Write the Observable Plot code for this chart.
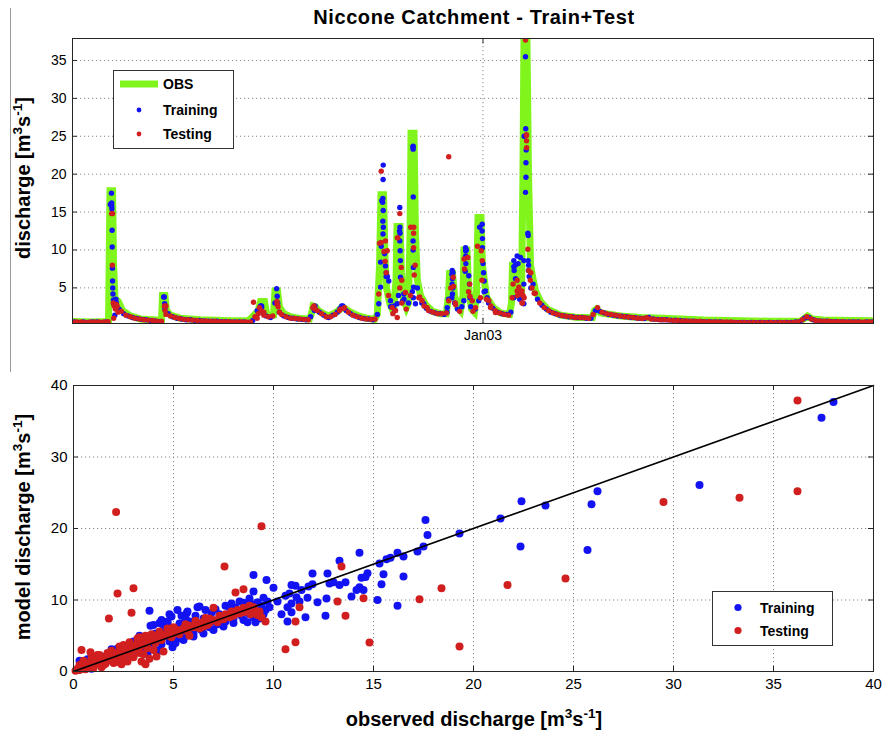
<!DOCTYPE html>
<html><head><meta charset="utf-8">
<script src="https://cdn.jsdelivr.net/npm/d3@7"></script>
<script src="https://cdn.jsdelivr.net/npm/@observablehq/plot@0.6"></script>
<style>
body{margin:0;background:#fff;}
#wrap{position:relative;width:883px;height:735px;background:#fff;overflow:hidden;}
#top{position:absolute;left:0;top:0;}
#bot{position:absolute;left:0;top:360px;}
#edge{position:absolute;left:10px;top:8px;width:1px;height:364px;background:#9a9a9a;z-index:2;}
</style></head><body>
<div id="wrap"><div id="top"></div><div id="bot"></div><div id="edge"></div></div>
<script>
// ---------- DATA ----------
const titleText = "Niccone Catchment - Train+Test";
const seriesNames = ["OBS", "Training", "Testing"];
const startDate = Date.UTC(2001, 11, 28);           // day 0 of the record
const jan03 = new Date(Date.UTC(2003, 0, 1));
const yTicksTop = [5, 10, 15, 20, 25, 30, 35];
const xTicksBot = [0, 5, 10, 15, 20, 25, 30, 35, 40];
const yTicksBot = [0, 10, 20, 30, 40];

// observed hydrograph vertices [day, discharge]
const obsSeries = [
  [0,0.55],[16,0.5],[30.5,0.55],[32.4,0.6],[33.7,17.8],[36,17.8],[36.9,8],[38.2,3.6],[41.3,3.2],[45,2.0],
  [52,1.3],[61,0.9],[74.6,0.75],[80,0.75],[80.9,4.0],[83.1,4.0],[84.5,2.0],[88,1.4],[97,1.0],[115,0.8],
  [142,0.65],[158,0.65],[162,1.2],[167,2.0],[169,3.2],[172.6,3.2],[174.4,1.6],[178,1.3],[180.7,1.4],[182,4.6],
  [184.3,4.6],[186,2.5],[190,1.6],[196,1.2],[205,0.95],[213,0.9],[214.8,1.6],[216.2,2.6],[218.4,2.5],[221,2.0],
  [225.6,1.6],[230,1.3],[234.6,1.6],[239,2.0],[241.8,2.4],[244.5,2.3],[250,1.8],[257,1.3],[264.3,1.0],[271.5,0.85],
  [274,1.5],[276,8],[277.3,17.3],[279.6,17.3],[280.9,9],[282.2,5],[285,3],[288.5,1.8],[290.8,6],[291.7,13.1],
  [294.4,13.1],[295.7,7],[297.5,3.5],[300.2,2.4],[302,3],[303.4,12],[304.3,25.4],[307,25.4],[308.3,12],[310,6],
  [312.8,4],[317.3,2.8],[323.6,1.9],[330.8,1.6],[336,1.6],[338,4],[338.9,6.9],[341.6,6.9],[343.4,4],[346,2.5],
  [348.8,2.0],[351,4],[351.9,10.0],[354.6,10.0],[356,5],[358.7,2.2],[361.3,1.8],[363.1,4],[364.5,14.3],[367.2,14.3],
  [368.5,8],[372.1,3.8],[378.4,2.4],[384.7,1.7],[392.8,1.5],[394.6,3],[395.5,8.0],[399.1,8.0],[400.9,4],[403.6,4],
  [404.9,20],[405.8,37.8],[408.5,37.8],[409.9,20],[411.7,8],[413.5,6.5],[416.2,4.6],[420.7,3.2],[427,2.2],[438.7,1.4],
  [454,1.1],[467.4,1.1],[469.2,2.0],[471,2.2],[474.6,1.7],[492.6,1.3],[510.6,1.1],[531.2,1.0],[546.5,0.9],[567.2,0.75],
  [600.4,0.65],[627.4,0.6],[654.4,0.6],[658,1.0],[660.7,1.3],[665.2,0.9],[675,0.75],[699.3,0.7],[720,0.65]
];

// model output sampled every 4 days: testing from day 0, training from day 2
const gridStep = 4, testGridStart = 0, trainGridStart = 2;
const testGrid = [
  0.5,0.5,0.5,0.45,0.5,0.5,0.5,0.5,0.55,14.8,
  2.6,1.9,1.4,1.2,1.0,0.9,0.8,0.75,0.7,0.6,
  0.6,2.6,1.3,1.1,0.95,0.85,0.8,0.75,0.7,0.65,
  0.65,0.6,0.6,0.55,0.55,0.55,0.5,0.5,0.5,0.5,
  0.5,1.2,2.4,1.8,1.2,1.3,2.8,1.5,1.2,1.0,
  0.95,0.9,0.85,0.8,2.4,2.0,1.6,1.2,1.2,1.5,
  2.0,2.3,1.8,1.4,1.2,1.0,0.9,0.85,0.9,10.9,
  9.8,4.0,1.6,11.6,6.0,2.2,13.0,8.0,3.8,2.6,
  2.0,1.8,1.6,1.6,1.7,5.0,3.0,1.9,8.8,4.5,
  1.9,10.5,6.0,3.5,2.6,2.0,1.7,1.5,1.4,5.5,
  4.0,3.0,25.2,7.0,4.3,3.0,2.4,2.0,1.7,1.5,
  1.35,1.25,1.2,1.1,1.1,1.05,1.0,1.5,2.4,1.8,
  1.6,1.5,1.4,1.3,1.2,1.15,1.1,1.0,0.95,1.05,
  0.9,0.85,0.8,0.8,0.75,0.7,0.7,0.65,0.65,0.6,
  0.6,0.6,0.55,0.55,0.5,0.5,0.5,0.5,0.5,0.45,
  0.45,0.45,0.4,0.45,0.4,0.45,0.4,0.45,0.4,0.45,
  0.45,0.4,0.45,0.5,0.8,1.2,0.9,0.7,0.65,0.6,
  0.6,0.55,0.55,0.55,0.5,0.5,0.5,0.5,0.5,0.5,
  0.5
];
const trainGrid = [
  0.5,0.45,0.5,0.45,0.5,0.5,0.4,0.5,16.0,3.3,
  2.2,1.6,1.3,1.1,0.95,0.85,0.8,0.7,0.65,0.55,
  3.8,1.6,1.2,1.0,0.9,0.8,0.8,0.7,0.7,0.65,
  0.6,0.6,0.6,0.55,0.55,0.5,0.5,0.5,0.5,0.45,
  0.7,2.0,2.6,1.3,1.1,3.0,1.8,1.3,1.1,1.0,
  0.9,0.85,0.8,1.2,2.6,1.8,1.4,1.1,1.4,1.8,
  2.6,2.0,1.6,1.3,1.1,0.95,0.9,0.8,1.5,16.5,
  6.5,2.5,2.0,12.5,3.5,3.0,23.6,5.0,3.0,2.3,
  1.9,1.7,1.6,1.5,3.5,7.0,2.2,2.5,10.0,2.5,
  2.2,13.0,4.5,3.0,2.3,1.8,1.6,1.5,1.8,8.0,
  3.5,25.0,8.0,5.5,3.5,2.7,2.2,1.8,1.6,1.4,
  1.3,1.2,1.15,1.1,1.1,1.0,1.0,2.0,1.9,1.7,
  1.5,1.4,1.3,1.25,1.2,1.1,1.05,1.0,0.95,1.1,
  0.9,0.85,0.8,0.8,0.75,0.75,0.7,0.65,0.6,0.6,
  0.55,0.55,0.5,0.5,0.5,0.5,0.45,0.45,0.45,0.4,
  0.45,0.4,0.45,0.4,0.45,0.4,0.45,0.4,0.45,0.4,
  0.45,0.45,0.5,0.55,1.0,1.1,0.8,0.65,0.6,0.6,
  0.55,0.55,0.5,0.5,0.5,0.5,0.5,0.45,0.5,0.5
];
// extra sub-daily model points during flood events [day, discharge]
const trainPeaks = [
  [35,17.5],[35.2,16.2],[35.3,15.8],[35.4,15.4],[35.6,12.6],[35.7,10.4],[35.9,7.6],[36,5.9],[36.2,5.0],[36.4,4.2],[36.8,3.4],[37.5,2.8],[39,3.5],[39.5,3.0],[40.5,2.3],[38,1.4],
  [82.5,3.8],[82.8,2.9],[83,2.2],
  [168,2.0],[169,2.6],[170,2.4],[171,1.8],
  [183.5,4.9],[184,3.9],[184.5,3.0],
  [216.5,2.3],[217.5,2.0],[240.5,2.3],[243,2.6],
  [279.3,21.2],[279.2,19.3],[279,16.8],[278.8,16.3],[279.3,15.2],[279,13.8],[279.4,13.0],[279.1,12.1],[277.5,10.5],[276.9,8.4],[281.3,7.9],[276.9,5.1],[275.3,2.9],[284.3,5.9],[285.8,3.3],[288.8,2.6],[280.5,9.5],[282,7.0],[283,6.5],
  [294.2,15.6],[294.3,13.0],[294.4,12.2],[294.2,11.2],[294.5,9.9],[294.7,8.6],[294.8,6.4],[291.9,2.9],[297.8,4.2],[293,4.0],[296.5,3.2],
  [306.2,23.7],[306.2,23.3],[306.3,17.0],[306.1,11.2],[306.2,10.0],[306.4,7.7],[306.6,5.1],[306.4,3.7],[308.3,2.9],[315.8,2.9],[305.5,4.5],
  [341.3,7.3],[341,6.8],[341.5,6.2],[341.2,5.5],[341.8,5.0],[341.5,4.2],[341,3.7],[336.8,2.4],[336.6,1.8],[343.5,3.0],
  [353.3,10.3],[353.4,9.9],[353.5,9.2],[353.6,8.2],[356.2,6.6],[356.8,5.5],[357.3,3.7],[351.8,3.3],[353,7.2],
  [368.3,13.4],[368.2,12.5],[368.5,11.5],[368.4,10.3],[369,8.2],[369.5,7.0],[370,5.9],[371.2,4.6],[372.7,3.7],[365.2,3.3],
  [399.7,9.2],[396.7,8.6],[396.7,7.8],[397,7.3],[398.2,6.2],[396.7,3.7],[403,3.5],
  [407.2,35.5],[407.4,26.0],[407.8,23.2],[407.6,21.5],[407.6,19.6],[407.2,17.6],[409.3,12.2],[409.6,11.9],[409.6,8.6],[409.8,7.3],[405.7,8.6],[402.7,9.0],[400.5,8.2],[405.7,5.5],[405.7,2.9],[410.5,6.5],[412,5.0]
];
const testPeaks = [
  [35.1,14.8],[35.8,8.0],[36.6,3.0],[37.5,2.6],[38.5,2.2],[39.5,2.8],[40,2.5],[41,1.8],[37,1.0],
  [82.6,2.6],[83.2,2.0],[84,1.5],
  [162.7,3.1],[167,1.6],[169.5,2.0],[172,1.4],[166,1.0],
  [183.8,3.2],[184.8,2.5],[186,1.8],
  [217,2.6],[218,2.2],[241,2.2],[244.5,2.4],
  [277.5,20.4],[275.3,4.2],[277.5,11.0],[281.3,11.2],[282.9,9.9],[287.4,2.4],[290.3,2.0],[281,8.5],[282,7.0],
  [294.2,14.8],[292.4,11.6],[295.5,7.7],[294.2,5.0],[290.3,2.0],[291.9,1.1],[299.3,4.4],[296,3.0],
  [306.8,13.0],[306.6,12.2],[306.6,10.3],[307.2,6.7],[303.8,4.0],[311.3,3.7],[314.3,3.3],[318.8,2.4],
  [338.2,22.3],
  [342.2,6.4],[342.5,5.2],[338.2,3.3],[344.3,2.8],
  [355.3,9.0],[352.4,7.5],[357,5.5],[357.2,3.9],[359.3,3.3],[362.2,2.4],
  [367.4,9.9],[368.3,8.6],[366.7,3.7],[374.2,3.3],[375.7,2.4],[380.2,1.75],
  [399.7,6.0],[395.2,3.7],[399.7,4.6],[402.7,4.2],[404.5,3.0],
  [407.2,37.7],[408.1,25.1],[408.1,24.4],[408.2,23.5],[409.3,10.1],[410.1,7.3],[401.2,5.1],[404,4.6],[405,4.0],[406,3.7],[411.5,6.0],[413,5.0],[415,4.3]
];

// scatter: [observed, model]
const trainScatter = [
  [38.0,37.7],[37.4,35.5],[31.3,26.1],[26.2,25.2],[25.9,23.4],[25.7,17.0],[22.4,23.8],[23.6,23.2],[21.35,21.4],[22.35,17.5],
  [19.3,19.3],[17.6,21.2],[17.7,19.1],[17.5,17.5],[17.2,16.8],[16.5,16.1],[16.2,16.6],[15.85,15.9],[15.65,15.7],[15.3,15.1],
  [15.5,13.6],[15.4,12.2],[16.5,13.3],[15.2,10.0],[16.2,9.2],[14.3,16.6],[13.3,15.5],[14.7,13.75],[14.6,13.2],[14.4,13.1],
  [14.5,11.4],[14.3,11.8],[14.15,11.4],[13.9,10.5],[13.6,12.5],[13.3,12.1],[13.0,12.5],[12.8,12.3],[12.7,13.7],[11.95,13.7],
  [11.95,12.2],[11.75,11.9],[11.4,11.4],[11.1,12.0],[10.6,10.6],[12.2,9.7],[12.65,10.2],[11.7,10.3],[11.3,9.8],[10.9,9.5],
  [10.9,8.3],[11.6,7.6],[10.7,7.0],[12.6,7.8],[10.0,11.7],[10.8,10.9],[9.65,12.8],[9.0,13.5],[9.0,11.2],[10.9,12.1],
  [10.7,9.0],[11.15,10.4],
  [0.2,0.2],[0.4,0.5],[0.6,0.4],[0.8,1.0],[1.0,0.8],[1.2,1.3],[0.5,1.0],[1.5,1.4],[1.8,1.6],[2.0,2.2],
  [2.3,1.9],[2.5,2.6],[2.8,2.4],[3.0,3.1],[3.2,2.8],[3.4,3.5],[1.0,2.0],[1.4,2.1],[0.7,1.7],[2.2,3.2],
  [2.6,3.5],[0.9,0.4],[1.9,3.1],[0.3,1.5],
  [3.6,3.0],[3.8,4.0],[4.0,3.5],[4.2,4.5],[4.4,3.8],[4.6,5.0],[4.8,4.2],[5.0,5.2],[5.2,4.6],[5.4,5.6],
  [5.6,5.0],[5.8,6.0],[6.0,5.4],[6.2,6.4],[6.4,5.8],[6.6,6.8],[6.8,6.2],[7.0,7.0],[7.2,6.6],[7.4,7.5],
  [7.6,7.0],[7.8,7.8],[8.0,7.4],[8.2,8.2],[8.4,7.8],[8.6,8.6],[8.8,8.0],[9.0,9.0],[9.2,8.4],[9.4,9.2],
  [9.6,8.6],[4.0,6.5],[4.3,6.8],[3.8,8.5],[4.7,7.0],[4.9,7.7],[5.3,6.7],[5.65,8.1],[5.8,7.0],[6.2,9.0],
  [6.1,7.8],[6.5,7.4],[6.9,8.2],[7.3,8.0],[7.8,9.0],[8.1,8.9],[8.5,9.6],[8.9,9.4],
  [3.7,2.5],[4.25,2.9],[4.95,3.4],[5.1,4.0],[5.5,4.4],[6.0,4.9],[6.5,5.3],[7.0,5.8],[7.5,6.3],[8.0,6.8],
  [8.5,7.2],[9.0,7.6],[9.5,8.0],[9.3,7.4],[8.7,6.9],[5.7,8.4],[4.5,5.8],[3.5,4.8],[4.1,5.3],[5.9,6.6],
  [7.9,9.5],[9.7,9.8],[3.85,6.4],[4.35,6.75],[4.7,6.7],[6.3,9.1],[4.5,6.9],[5.4,7.8],
  [3.0,4.2],[3.3,5.0],[4.4,7.2],[4.8,8.0],[5.2,8.6],[5.6,7.4],[6.6,8.6],[7.1,8.7],[7.6,9.2],[8.3,9.8],
  [8.8,10.2],[9.2,9.7],[9.5,10.3],[9.1,6.9],[9.8,9.0],[10.2,9.8],[10.4,8.0]
];
const testScatter = [
  [36.2,37.9],[33.3,24.3],[36.2,25.2],[29.5,23.7],[24.6,13.0],[21.7,12.1],[19.3,3.5],[18.4,11.65],[17.3,10.1],[14.8,4.05],
  [14.5,10.25],[13.6,7.8],[13.4,14.7],[13.2,9.8],[11.3,9.0],[11.1,7.0],[11.1,4.1],[10.6,3.1],[2.13,22.3],[9.4,20.3],
  [7.55,14.7],[3.0,11.65],[2.2,10.9],[1.77,7.4],[2.9,8.2],[8.5,11.5],[8.1,11.05],[3.6,1.0],[0.4,3.0],[0.85,2.7],
  [7.0,8.9],[6.6,7.5],[8.85,8.0],[9.4,7.6],[9.6,7.0],[4.15,2.1],[2.1,1.3],
  [0.1,0.1],[0.2,0.4],[0.3,0.2],[0.4,0.7],[0.5,0.4],[0.6,0.9],[0.7,0.6],[0.8,1.2],[0.9,0.8],[1.0,1.4],
  [1.1,1.0],[1.2,1.6],[1.3,1.2],[1.4,1.8],[1.5,1.4],[1.6,2.0],[1.7,1.5],[1.8,2.2],[1.9,1.8],[2.0,2.4],
  [2.1,2.0],[2.2,2.6],[2.3,2.2],[2.4,2.9],[2.5,2.4],[2.6,3.1],[2.7,2.6],[2.8,3.3],[2.9,2.9],[3.0,3.6],
  [3.1,3.1],[3.2,3.9],[3.3,3.4],[3.4,4.2],[3.5,3.7],[3.6,4.5],[3.7,4.0],[3.8,4.8],[3.9,4.4],[4.0,5.0],
  [4.2,4.7],[4.4,5.2],[4.6,5.0],[4.8,5.5],[5.0,5.3],[5.2,5.8],[5.5,6.0],[5.8,6.4],[6.0,6.2],[6.2,6.8],
  [6.5,7.0],[6.8,7.4],[7.0,7.2],[7.3,7.8],[7.6,8.0],[7.9,8.4],[8.2,8.6],[8.5,8.9],[8.8,9.2],[9.0,9.0],
  [1.0,0.5],[1.5,0.9],[2.0,1.2],[2.5,1.7],[3.0,2.0],[3.5,2.4],[4.0,3.0],[2.3,3.5],[1.9,2.9],[3.2,4.6],
  [0.5,1.5],[1.2,2.3],[2.7,1.4],[3.4,1.4],[4.5,2.8],[3.8,1.8],[6.5,6.3],[7.5,7.3],[8.0,7.8],[8.5,8.3],
  [9.0,8.7],[9.2,7.9],[3.6,5.0],[3.3,4.8],[2.8,4.1],[2.5,3.7],[1.7,2.6],[1.3,2.3],[0.3,0.9],[5.0,6.2],
  [5.6,6.6],[6.1,7.1],[4.3,5.6],[4.7,6.0],[3.9,5.2],[5.8,5.0],[6.8,6.8],
  [0.6,0.3],[1.1,1.7],[1.6,1.1],[2.2,1.6],[2.9,2.3],[3.3,2.6],[3.7,3.3],[4.1,4.0],[4.4,4.4],[4.9,4.8],
  [5.3,5.2],[5.7,5.6],[6.3,6.0],[6.7,6.5],[7.2,6.9],[7.8,7.6],[8.3,8.1],[8.7,8.5],[9.3,8.4],[1.4,0.6],
  [2.4,1.0],[0.9,1.9]
];
const oneToOne = [[0, 0], [40, 40]];

// ---------- STYLE ----------
const GREEN = "#7ff51c", BLUE = "#1212f2", RED = "#d11f1f", AXIS = "#262626", GRID = "#8a8a8a";
const FONT = "'Liberation Sans', Arial, Helvetica, sans-serif";
const day = d => new Date(startDate + d * 864e5);

const trainTop = trainGrid.map((q, i) => [trainGridStart + i * gridStep, q]).concat(trainPeaks);
const testTop = testGrid.map((q, i) => [testGridStart + i * gridStep, q]).concat(testPeaks);

const topY = [0.3, 37.9];
const topPlot = Plot.plot({
  width: 883, height: 360,
  marginLeft: 72, marginRight: 10, marginTop: 38, marginBottom: 37,
  style: {fontFamily: FONT, fontSize: "14px", color: "black", background: "white", overflow: "visible"},
  x: {type: "utc", domain: [day(0), day(720)], ticks: [jan03], tickFormat: d3.utcFormat("%b%y"), tickSize: 0, tickPadding: 7, label: null},
  y: {domain: topY, ticks: yTicksTop, tickSize: 0, tickPadding: 6, label: null},
  marks: [
    Plot.ruleY(yTicksTop, {stroke: GRID, strokeDasharray: "1.2,2.8"}),
    Plot.ruleX([jan03], {stroke: GRID, strokeDasharray: "1.2,2.8"}),
    Plot.line(obsSeries, {x: d => day(d[0]), y: d => d[1], stroke: GREEN, strokeWidth: 7, strokeLinejoin: "miter", strokeMiterlimit: 4, clip: true}),
    Plot.dot(trainTop, {x: d => day(d[0]), y: d => d[1], r: 2.7, fill: BLUE, clip: true}),
    Plot.dot(testTop, {x: d => day(d[0]), y: d => d[1], r: 2.7, fill: RED, clip: true}),
    Plot.ruleY(yTicksTop, {x1: day(0), x2: day(4.5), stroke: AXIS}),
    Plot.ruleY(yTicksTop, {x1: day(715.5), x2: day(720), stroke: AXIS}),
    Plot.ruleX([jan03], {y1: topY[0], y2: topY[0] + 0.7, stroke: AXIS}),
    Plot.ruleX([jan03], {y1: topY[1] - 0.7, y2: topY[1], stroke: AXIS}),
    Plot.frame({stroke: AXIS})
  ]
});

const botPlot = Plot.plot({
  width: 883, height: 375,
  marginLeft: 73, marginRight: 10, marginTop: 25, marginBottom: 64,
  style: {fontFamily: FONT, fontSize: "15px", color: "black", background: "white", overflow: "visible"},
  x: {domain: [0, 40], ticks: xTicksBot, tickSize: 0, tickPadding: 7, label: null},
  y: {domain: [0, 40], ticks: yTicksBot, tickSize: 0, tickPadding: 6, label: null},
  marks: [
    Plot.ruleX(xTicksBot.filter(v => v > 0 && v < 40), {stroke: GRID, strokeDasharray: "1.2,2.8"}),
    Plot.ruleY(yTicksBot.filter(v => v > 0 && v < 40), {stroke: GRID, strokeDasharray: "1.2,2.8"}),
    Plot.dot(trainScatter, {x: d => d[0], y: d => d[1], r: 4, fill: BLUE}),
    Plot.dot(testScatter, {x: d => d[0], y: d => d[1], r: 4, fill: RED}),
    Plot.line(oneToOne, {x: d => d[0], y: d => d[1], stroke: "black", strokeWidth: 1.6}),
    Plot.ruleY(yTicksBot, {x1: 0, x2: 0.25, stroke: AXIS}),
    Plot.ruleY(yTicksBot, {x1: 39.75, x2: 40, stroke: AXIS}),
    Plot.ruleX(xTicksBot, {y1: 0, y2: 0.7, stroke: AXIS}),
    Plot.ruleX(xTicksBot, {y1: 39.3, y2: 40, stroke: AXIS}),
    Plot.frame({stroke: AXIS})
  ]
});

document.getElementById("top").appendChild(topPlot);
document.getElementById("bot").appendChild(botPlot);

// ---------- TEXT & LEGENDS ----------
function unitLabel(svg, x, y, rot, main, size) {
  const t = d3.select(svg).append("text")
    .attr("transform", `translate(${x},${y}) rotate(${rot})`)
    .attr("text-anchor", "middle").attr("font-weight", "bold")
    .attr("font-family", FONT).attr("font-size", size).attr("fill", "black");
  const up = size * 0.42, small = size * 0.68;
  t.append("tspan").text(main + " [m");
  t.append("tspan").attr("font-size", small).attr("dy", -up).text("3");
  t.append("tspan").attr("dy", up).text("s");
  t.append("tspan").attr("font-size", small).attr("dy", -up).text("-1");
  t.append("tspan").attr("dy", up).text("]");
}
const sTop = d3.select(topPlot);
sTop.append("text").attr("x", 474).attr("y", 24).attr("text-anchor", "middle")
  .attr("font-family", FONT).attr("font-weight", "bold").attr("font-size", 20)
  .attr("letter-spacing", 0.6).attr("fill", "black").text(titleText);
unitLabel(topPlot, 30, 178, -90, "discharge", 20);
unitLabel(botPlot, 30, 167, -90, "model discharge", 20);
unitLabel(botPlot, 474, 366, 0, "observed discharge", 20);

function legend(svg, box, items) {
  const g = d3.select(svg).append("g").attr("font-family", FONT).attr("font-weight", "bold")
    .attr("font-size", 14).attr("text-anchor", "start");
  g.append("rect").attr("x", box[0]).attr("y", box[1]).attr("width", box[2]).attr("height", box[3])
    .attr("fill", "white").attr("stroke", "#333").attr("stroke-width", 1);
  for (const it of items) {
    if (it.kind === "line") {
      g.append("line").attr("x1", it.x - 19).attr("x2", it.x + 19).attr("y1", it.y).attr("y2", it.y)
        .attr("stroke", it.color).attr("stroke-width", 7);
    } else {
      g.append("circle").attr("cx", it.x).attr("cy", it.y).attr("r", it.r).attr("fill", it.color);
    }
    g.append("text").attr("x", it.tx).attr("y", it.y + 5).attr("text-anchor", "start")
      .attr("fill", "black").text(it.label);
  }
}
legend(topPlot, [113.5, 70.5, 120, 78], [
  {kind: "line", x: 139, y: 84, color: GREEN, tx: 163, label: seriesNames[0]},
  {kind: "dot", x: 139, y: 110, r: 2.4, color: BLUE, tx: 163, label: seriesNames[1]},
  {kind: "dot", x: 139, y: 134, r: 2.4, color: RED, tx: 163, label: seriesNames[2]}
]);
legend(botPlot, [712.5, 231.5, 120, 54], [
  {kind: "dot", x: 738, y: 247.5, r: 3.6, color: BLUE, tx: 760, label: seriesNames[1]},
  {kind: "dot", x: 738, y: 270.5, r: 3.6, color: RED, tx: 760, label: seriesNames[2]}
]);
</script></body></html>
